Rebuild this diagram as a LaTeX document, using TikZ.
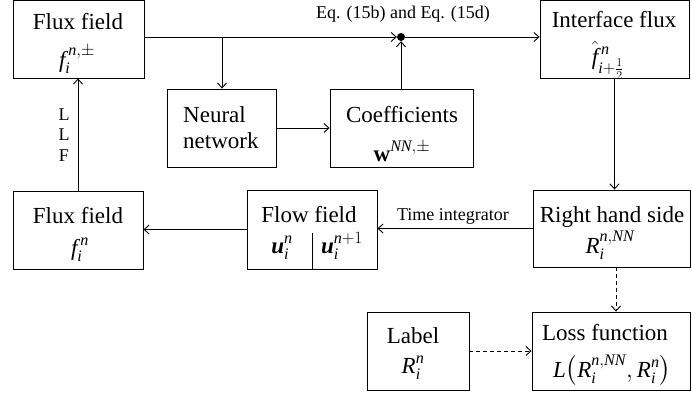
\documentclass[tikz,border=0pt]{standalone}
\usepackage{fontspec}
\setmainfont{Liberation Serif}
\usepackage{amsmath}
\usetikzlibrary{arrows.meta}
\newcommand{\mi}[1]{\mathit{#1}}
\newcommand{\bu}{\text{\bfseries\itshape u}}
\begin{document}
\begin{tikzpicture}[x=1pt,y=-1pt,
  box/.style={draw, line width=0.9pt, inner sep=0pt, fill=white},
  txt/.style={inner sep=0pt, anchor=base, font=\fontsize{23}{27}\selectfont},
  small/.style={inner sep=0pt, anchor=base, font=\fontsize{18}{22}\selectfont},
  conn/.style={line width=0.9pt, -{Straight Barb[length=5pt,width=9pt,line width=0.9pt]}},
  dconn/.style={conn, dash pattern=on 4pt off 3pt}]
\useasboundingbox (0,0) rectangle (692,396);
% boxes
\node[box, minimum width=131pt, minimum height=78pt] (ff1) at (78.5,39) {};
\node[box, minimum width=109pt, minimum height=78pt] (nn) at (221.5,128) {};
\node[box, minimum width=143pt, minimum height=78pt] (co) at (401.5,128) {};
\node[box, minimum width=149pt, minimum height=78pt] (ifx) at (614.5,39) {};
\node[box, minimum width=130pt, minimum height=78pt] (ff2) at (78,230) {};
\node[box, minimum width=130pt, minimum height=79pt] (flow) at (312,229.5) {};
\node[box, minimum width=157pt, minimum height=77pt] (rhs) at (611.5,228.5) {};
\node[box, minimum width=102pt, minimum height=78pt] (lab) at (418,351) {};
\node[box, minimum width=158pt, minimum height=78pt] (loss) at (611,351) {};
% texts
\node[txt] (t1) at (78,30) {Flux field};
\node[txt] (m1) at (77,67) {$\mi{f}_{\mi{i}}^{\,\mi{n},\pm}$};
\node[txt] (t2) at (614,28) {Interface flux};
\node[txt] (m2) at (608,64) {$\hat{\mi{f}}_{\mi{i}+\frac{1}{2}}^{\,\mi{n}}$};
\node[txt, anchor=base west] (t3) at (183,122) {Neural};
\node[txt, anchor=base west] (t3b) at (183,148) {network};
\node[txt] (t4) at (402,122) {Coefficients};
\node[txt] (m4) at (402,161) {$\mathbf{w}^{\mi{NN},\pm}$};
\node[txt] (t5) at (78,223) {Flux field};
\node[txt] (m5) at (80,255) {$\mi{f}_{\mi{i}}^{\,\mi{n}}$};
\node[txt] (t6) at (309,222) {Flow field};
\node[txt] (m6a) at (282,253) {$\bu_{\mi{i}}^{\mi{n}}$};
\node[txt] (m6b) at (342,253) {$\bu_{\mi{i}}^{\mi{n}+1}$};
\node[txt] (t7) at (612,222) {Right hand side};
\node[txt] (m7) at (610,253) {$\mi{R}_{\mi{i}}^{\mi{n},\mi{NN}}$};
\node[txt] (t8) at (413,343) {Label};
\node[txt] (m8) at (413,373) {$\mi{R}_{\mi{i}}^{\mi{n}}$};
\node[txt] (t9) at (605,340) {Loss function};
\node[txt] (m9) at (612,377) {$\mi{L}{\left(\mi{R}_{\mi{i}}^{\mi{n},\mi{NN}},\mi{R}_{\mi{i}}^{\mi{n}}\right)}$};
\node[small] (eq) at (403,19) {Eq. (15b) and Eq. (15d)};
\node[small] (ti) at (453,220) {Time integrator};
\node[small] (l1) at (64,120) {L};
\node[small] (l2) at (64,140) {L};
\node[small] (l3) at (64,161) {F};
% divider in flow field
\coordinate (dvt) at (312,233);
\draw[line width=0.9pt] (dvt) -- (dvt |- flow.south);
% dot
\node[circle, fill=black, inner sep=0pt, minimum size=8pt] (dot) at (401,37) {};
% connectors
\coordinate (br) at (222,37);
\draw[conn] (ff1.east |- dot) -- (dot);
\draw[conn] (br) -- (br |- nn.north);
\draw[conn] (co.north -| dot) -- (dot);
\draw[conn] (dot) -- (dot -| ifx.west);
\draw[conn] (nn.east) -- (co.west);
\draw[conn] (ifx.south) -- (ifx.south |- rhs.north);
\draw[conn] (rhs.west) -- (rhs.west -| flow.east);
\draw[conn] (flow.west) -- (flow.west -| ff2.east);
\draw[conn] (ff2.north) -- (ff2.north |- ff1.south);
\draw[dconn] (rhs.south -| 616,0) -- (616,0 |- loss.north);
\draw[dconn] (lab.east) -- (lab.east -| loss.west);
\end{tikzpicture}
\end{document}
